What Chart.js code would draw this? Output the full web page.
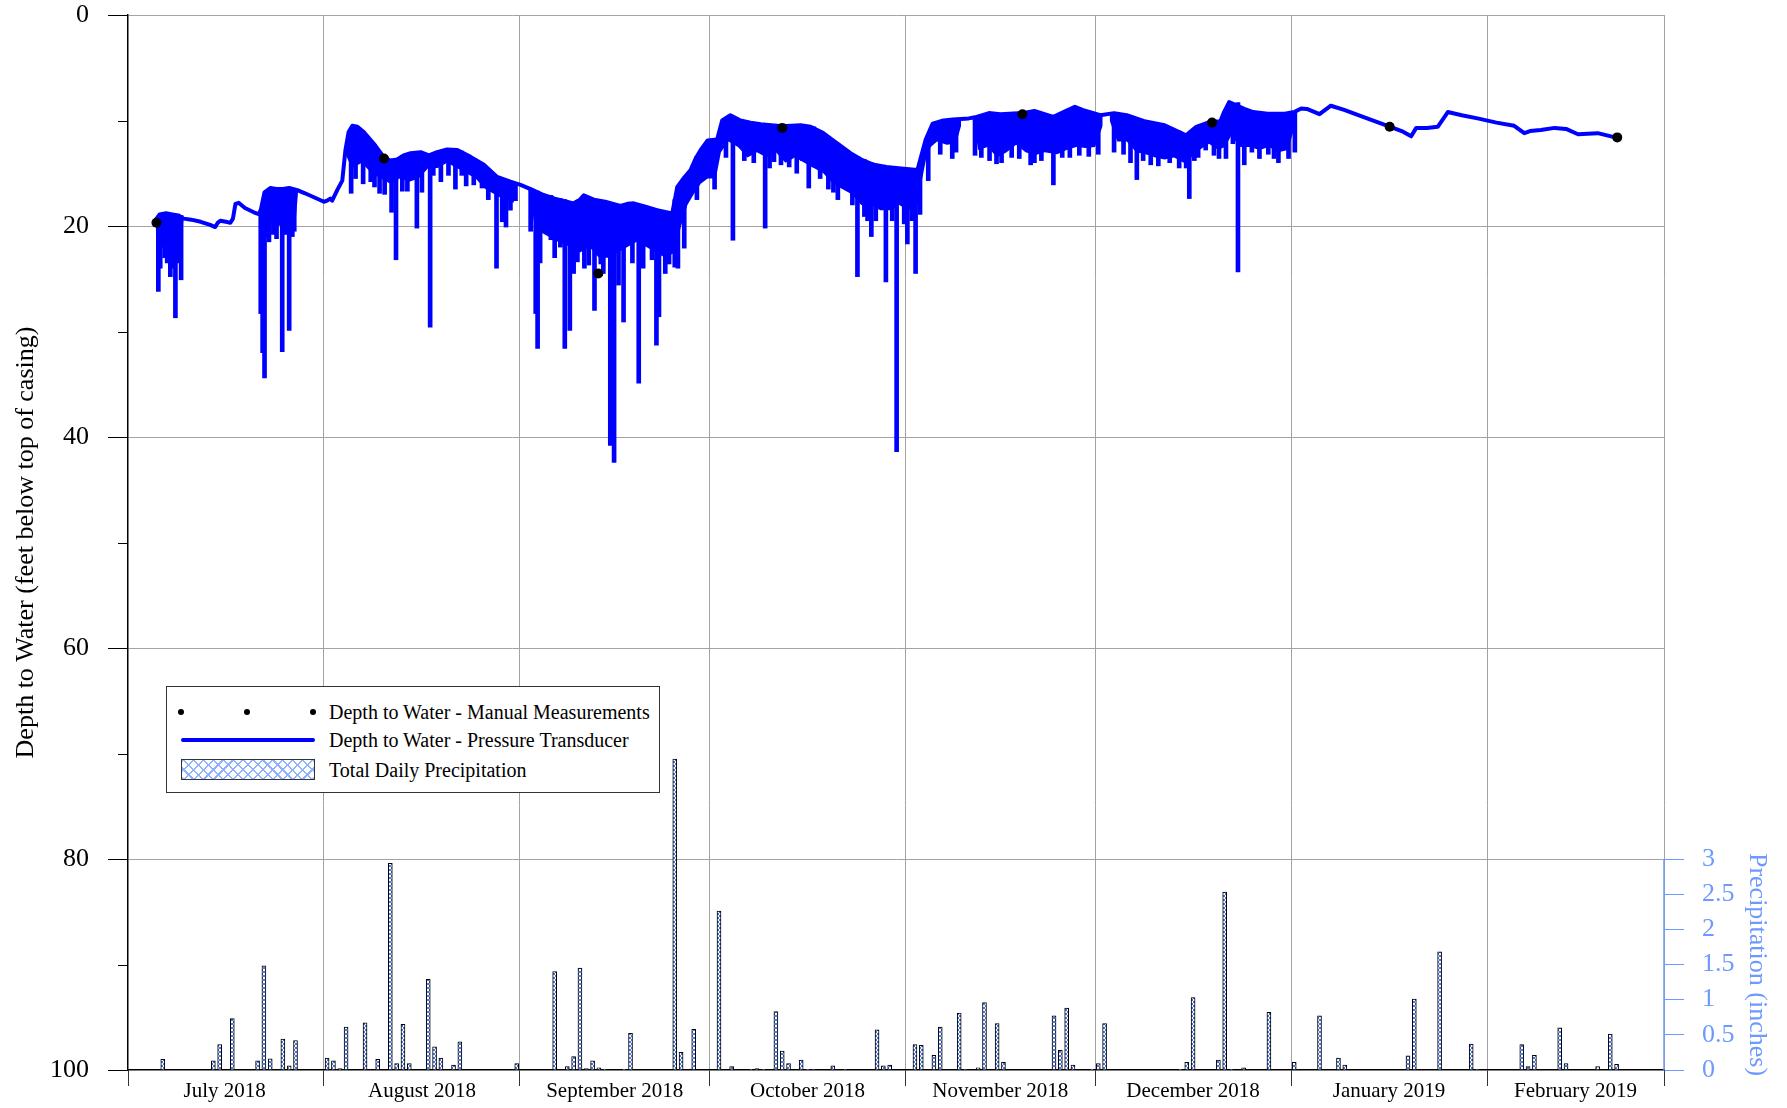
<!DOCTYPE html>
<html lang="en">
<head>
  <meta charset="UTF-8">
  <title>Depth to Water and Precipitation</title>
  <script src="https://cdn.jsdelivr.net/npm/chart.js@4.4.1/dist/chart.umd.min.js"></script>
  <style>
    html, body { margin: 0; padding: 0; background: #fff; }
    #wrap { position: relative; width: 1787px; height: 1108px; }
    #legend {
      position: absolute; left: 166px; top: 686px; width: 494px; height: 107px;
      box-sizing: border-box; border: 1px solid #333; background: #fff;
      font-family: 'Liberation Serif', 'Times New Roman', serif; font-size: 20px; color: #000;
    }
    #legend .dot { position: absolute; width: 6px; height: 6px; border-radius: 50%; background: #000; }
    #legend .line { position: absolute; left: 14px; width: 134px; height: 4px; border-radius: 2px; background: #0000ff; }
    #legend .hatch {
      position: absolute; left: 14px; width: 134px; height: 21px; box-sizing: border-box;
      border: 1px solid #333; background-color: #fff;
      background-image:
        repeating-linear-gradient(45deg, #8fb2ff 0 1.5px, transparent 1.5px 7px),
        repeating-linear-gradient(-45deg, #8fb2ff 0 1.5px, transparent 1.5px 7px);
    }
    #legend .txt { position: absolute; left: 162px; line-height: 24px; white-space: nowrap; }
  </style>
</head>
<body>
<div id="wrap">
  <canvas id="chart" width="1787" height="1108"></canvas>
  <div id="legend">
    <span class="dot" style="left:11px;top:22px"></span>
    <span class="dot" style="left:77px;top:22px"></span>
    <span class="dot" style="left:143px;top:22px"></span>
    <span class="txt" style="top:13px">Depth to Water - Manual Measurements</span>
    <span class="line" style="top:51px"></span>
    <span class="txt" style="top:41px">Depth to Water - Pressure Transducer</span>
    <span class="hatch" style="top:72px"></span>
    <span class="txt" style="top:71px">Total Daily Precipitation</span>
  </div>
</div>
<script>
  // x values are days since 1 July 2018
  const months = ['July 2018', 'August 2018', 'September 2018', 'October 2018',
                  'November 2018', 'December 2018', 'January 2019', 'February 2019'];
  const monthStarts = [0, 31, 62, 92, 123, 153, 184, 215, 243];
  const monthMids = [15.3, 46.5, 77, 107.5, 138, 168.5, 199.5, 229];

  const depthTicks = [0, 20, 40, 60, 80, 100];
  const depthMinor = [10, 30, 50, 70, 90];
  const precipTicks = [0, 0.5, 1, 1.5, 2, 2.5, 3];

  // manual measurements
  const manualDays  = [4.5, 40.5, 74.4, 103.5, 141.5, 171.5, 199.6, 235.6];
  const manualDepth = [19.7, 13.6, 24.5, 10.7, 9.4, 10.2, 10.6, 11.6];

  // pressure transducer, upper trace
  const lineDays = [
    4.4, 5.0, 6.0, 7.0, 8.0, 8.8, 10.0, 11.5, 13.0, 13.8, 14.2, 14.6, 15.5, 16.2, 16.6, 17.0, 17.5, 18.5, 19.9, 20.8,
    21.0, 21.6, 22.5, 23.5, 24.5, 25.5, 26.8, 28.0, 29.5, 31.0,
    31.5, 32.0, 32.3, 33.1, 33.9, 34.4, 34.9, 35.5, 36.3, 37.3, 38.9, 40.5, 41.5, 42.6, 43.6, 44.7, 46.3, 47.6, 48.9,
    50.5, 52.1, 54.2, 56.3, 58.4, 60.5, 62.1,
    63.7, 65.5, 67.5, 70.5, 71.5, 72.1, 73.7, 75.5, 77.9, 79.0, 80.0, 82.0, 83.7, 86.1, 86.9, 88.0, 89.0, 89.8, 90.6, 91.7,
    93.2, 94.0, 95.3, 96.9, 98.5, 100.1, 103.5, 106.4, 108.0, 110.0, 111.6, 114.3, 116.0, 118.0, 120.0, 122.3,
    124.9, 125.3, 126.2, 127.3, 129.0, 130.5, 133.0, 134.0, 136.2, 138.0, 141.5, 143.4, 145.0, 146.4, 148.0, 149.8, 151.0,
    152.2, 153.8, 156.0, 158.0, 161.0, 164.0, 167.4, 168.0, 169.0, 171.3, 172.8, 173.4, 174.2, 176.6, 178.0, 180.3, 183.0,
    184.5, 185.6, 186.5, 188.5, 190.3, 192.4, 195.6, 199.7, 201.5, 203.0, 203.8, 205.5, 207.2, 208.8, 211.0, 213.5,
    216.5, 219.3, 220.9, 221.8, 223.5, 225.7, 227.5, 229.4, 232.5, 235.6
  ];
  const lineDepth = [
    19.4, 18.9, 18.8, 18.9, 19.0, 19.3, 19.4, 19.6, 19.9, 20.1, 19.7, 19.5, 19.6, 19.7, 19.3, 17.9, 17.8, 18.3, 18.7, 18.9,
    18.5, 16.8, 16.4, 16.5, 16.5, 16.4, 16.6, 16.9, 17.3, 17.7,
    17.6, 17.4, 17.6, 16.6, 15.7, 12.8, 11.1, 10.5, 10.6, 11.1, 12.2, 13.5, 13.8, 13.7, 13.3, 13.1, 13.0, 13.3, 13.0,
    12.75, 12.8, 13.45, 14.2, 15.35, 15.8, 16.1,
    16.5, 17.0, 17.4, 17.85, 17.5, 17.1, 17.5, 17.7, 18.1, 17.9, 17.85, 18.2, 18.5, 18.8, 16.3, 15.4, 14.7, 13.6, 12.8, 11.9,
    11.8, 10.0, 9.5, 10.0, 10.2, 10.35, 10.55, 10.45, 10.6, 11.2, 11.9, 13.1, 13.7, 14.2, 14.4, 14.55,
    14.7, 13.8, 11.8, 10.3, 10.0, 9.9, 9.8, 9.7, 9.3, 9.4, 9.3, 9.1, 9.4, 9.66, 9.2, 8.7, 9.0,
    9.2, 9.5, 9.3, 9.5, 10.1, 10.45, 11.4, 11.1, 10.6, 10.1, 10.1, 9.2, 8.25, 8.9, 9.2, 9.35, 9.35,
    9.2, 8.86, 8.9, 9.4, 8.6, 9.0, 9.7, 10.6, 11.0, 11.5, 10.7, 10.7, 10.6, 9.2, 9.5, 9.8,
    10.2, 10.5, 11.2, 11.0, 10.9, 10.7, 10.8, 11.3, 11.2, 11.65
  ];

  // lower edge of the dense pumping band (null = no band)
  const bandDays = [
    4.4, 5.0, 5.8, 6.5, 7.3, 8.0, 8.6, 8.8, 9.0,
    21.0, 21.8, 22.8, 23.8, 24.8, 25.8, 26.6, 26.9, 27.0,
    34.3, 35.0, 35.5, 37.0, 38.5, 40.0, 41.5, 43.0, 44.5, 46.0, 47.5, 49.0, 50.5, 52.0, 53.5, 55.0, 56.5, 58.0, 59.5, 61.0, 61.6, 61.8,
    63.7, 64.2, 65.0, 66.5, 68.0, 70.0, 71.5, 73.0, 74.5, 76.0, 77.5, 79.0, 80.5, 82.0, 83.5, 85.0, 86.5, 87.5, 88.5,
    89.5, 90.6, 91.7, 93.0, 93.8, 95.0, 96.5, 98.0, 99.5, 101.0, 102.5, 104.0, 105.5, 107.0, 108.5, 110.0, 111.5, 113.0,
    114.5, 116.0, 117.5, 119.0, 120.5, 122.0, 123.5, 124.9, 125.5, 126.3, 127.0, 128.0, 129.5, 131.0, 131.8, 131.9,
    133.8, 134.5, 136.0, 137.5, 139.0, 140.5, 142.0, 143.5, 145.0, 147.0, 148.5, 150.0, 151.5, 153.0, 154.2, 154.3,
    155.3, 156.5, 158.0, 159.5, 161.0, 162.5, 164.0, 165.5, 167.0, 168.2, 169.5, 171.0, 172.5, 173.5, 174.5, 176.0,
    177.5, 179.0, 180.5, 182.0, 183.5, 184.9
  ];
  const bandBottom = [
    20.5, 22.0, 21.0, 23.0, 22.5, 21.5, 20.5, 19.4, null,
    19.5, 20.0, 19.8, 20.0, 19.8, 19.6, 19.0, 16.8, null,
    13.0, 14.0, 14.5, 14.0, 15.0, 15.5, 16.0, 15.5, 15.8, 15.5, 14.5, 14.5, 14.0, 14.5, 15.0, 15.5, 16.5, 17.0, 17.5, 17.8, 16.0, null,
    17.5, 19.5, 20.5, 21.0, 21.5, 22.0, 22.5, 22.0, 23.0, 23.0, 22.5, 22.0, 21.5, 22.0, 22.5, 23.0, 22.5, 20.0, 18.0,
    17.0, 16.0, 15.5, 15.5, 13.0, 12.0, 12.5, 13.5, 13.0, 13.5, 13.0, 14.0, 13.5, 14.0, 14.5, 15.0, 16.0, 16.5,
    17.0, 18.0, 18.0, 18.5, 18.5, 18.0, 18.5, 18.0, 16.0, 13.5, 12.5, 12.0, 12.3, 12.2, 10.5, null,
    10.0, 12.8, 12.5, 13.5, 13.0, 12.3, 13.0, 13.3, 13.0, 13.2, 12.8, 12.5, 12.6, 12.5, 10.5, null,
    10.0, 12.0, 12.0, 13.0, 13.2, 13.5, 13.7, 13.5, 14.0, 13.5, 12.8, 12.2, 12.8, 12.5, 11.5, 12.5,
    12.5, 12.8, 12.5, 13.0, 12.8, 10.0
  ];

  // drawdown spikes: day, from depth, to depth (long ones first, then short ones on the band edge)
  const spikeDays = [
    4.8, 5.4, 6.2, 6.7, 7.5, 8.4, 21.0, 21.3, 21.6, 22.3, 24.4, 25.5, 26.3,
    35.3, 38.4, 39.8, 41.7, 42.4, 43.4, 44.2, 45.7, 47.8, 48.3, 50.7, 51.8, 52.8, 54.7, 56.0, 58.3, 59.2, 59.8, 61.3,
    63.7, 64.5, 64.8, 66.9, 68.4, 69.1, 69.9, 71.1, 72.9, 73.8, 74.8, 75.7, 76.3, 76.9, 77.6, 78.4, 80.8, 82.9, 83.6,
    84.0, 85.6, 86.5, 88.0,
    95.7, 100.8, 102.2, 104.6, 106.7, 107.7, 108.5, 111.6, 113.8, 115.4, 116.5, 117.6, 119.9, 121.6, 123.3, 124.6, 125.3,
    126.6, 130.4, 134.0, 137.4, 143.4, 146.4, 147.8, 159.6, 160.6, 163.9, 167.4, 167.9, 168.7, 173.7, 175.6, 176.6, 181.3,
    5.1, 5.8, 7.1, 8.0, 22.0, 23.0, 23.5, 25.0, 26.0,
    36.0, 37.2, 39.0, 40.6, 46.5, 49.5, 53.5, 57.0, 60.5,
    65.2, 67.5, 70.5, 72.2, 75.2, 79.8, 81.5, 85.0, 87.0,
    90.0, 92.8, 94.6, 97.5, 99.0, 101.5, 103.3, 105.8, 109.5, 110.8, 112.3, 114.6, 117.0, 118.3, 120.9, 122.8, 124.0,
    128.5, 131.0, 135.0, 136.3, 138.2, 139.8, 141.0, 142.8, 144.5, 149.0, 150.5, 152.0, 153.5, 156.0, 157.5, 158.6,
    161.8, 163.0, 164.8, 166.3, 169.3, 170.5, 171.8, 172.6, 174.8, 177.8, 179.0, 180.4, 182.0, 183.6, 184.6
  ];
  const spikeFrom = [
    19.2, 19.0, 19.0, 19.0, 19.0, 19.0, 18.5, 18.0, 17.0, 16.5, 16.5, 16.5, 16.5,
    11.0, 12.0, 13.0, 13.8, 13.8, 13.3, 13.2, 13.1, 13.3, 13.2, 12.8, 12.8, 12.9, 13.6, 14.1, 15.3, 15.6, 15.7, 15.9,
    16.6, 16.7, 16.7, 17.1, 17.4, 17.5, 17.7, 17.7, 17.3, 17.5, 17.6, 17.7, 17.8, 17.9, 18.0, 18.0, 18.0, 18.3, 18.4,
    18.5, 18.7, 17.5, 15.5,
    9.6, 10.4, 10.5, 10.5, 10.5, 10.6, 10.6, 11.9, 13.0, 13.4, 13.7, 14.0, 14.4, 14.5, 14.6, 14.7, 14.0,
    11.5, 9.9, 9.7, 9.35, 9.1, 9.66, 9.3, 9.8, 10.1, 10.4, 11.4, 11.4, 11.0, 9.0, 8.3, 8.9, 9.35,
    19.0, 19.0, 19.0, 19.0, 16.8, 16.5, 16.5, 16.5, 16.5,
    10.8, 11.1, 12.3, 13.5, 13.0, 13.0, 13.2, 14.6, 15.8,
    16.9, 17.4, 17.8, 17.1, 17.7, 17.9, 18.1, 18.7, 16.3,
    13.4, 11.8, 9.8, 10.1, 10.3, 10.4, 10.5, 10.5, 11.0, 11.5, 12.2, 13.2, 13.9, 14.2, 14.5, 14.6, 14.6,
    10.0, 9.9, 9.5, 9.3, 9.4, 9.35, 9.3, 9.2, 9.3, 8.9, 8.9, 9.2, 9.4, 9.3, 9.4, 9.6,
    10.2, 10.3, 10.7, 11.0, 10.5, 10.3, 10.1, 10.1, 8.4, 9.1, 9.3, 9.35, 9.35, 9.3, 9.2
  ];
  const spikeTo = [
    26.2, 22.0, 23.5, 24.8, 28.7, 25.1, 28.3, 32.0, 34.4, 21.5, 31.9, 29.9, 20.5,
    16.9, 15.8, 16.9, 18.7, 23.2, 16.7, 16.7, 20.2, 29.6, 15.2, 15.2, 16.5, 15.2, 16.1, 16.4, 24.0, 19.6, 20.1, 17.6,
    20.5, 28.3, 31.6, 21.3, 22.0, 31.6, 29.9, 23.4, 23.7, 28.0, 23.6, 21.9, 40.8, 42.4, 25.6, 29.1, 34.9, 23.2, 31.3,
    28.6, 23.6, 23.9, 22.1,
    21.35, 20.2, 13.9, 14.4, 13.8, 16.4, 14.4, 16.8, 16.3, 24.8, 19.1, 21.0, 25.3, 41.4, 21.7, 24.5, 18.9,
    15.7, 13.6, 13.3, 14.1, 14.0, 16.1, 13.5, 15.6, 13.8, 13.6, 14.5, 17.4, 13.8, 13.6, 24.35, 14.2, 13.6,
    24.0, 23.0, 24.0, 23.5, 21.0, 20.8, 21.2, 20.8, 21.0,
    15.5, 16.0, 16.3, 17.0, 16.8, 15.8, 16.2, 17.5, 18.5,
    23.5, 23.0, 24.5, 24.0, 24.5, 23.5, 24.0, 24.5, 24.0,
    17.5, 16.5, 13.5, 13.8, 14.0, 14.5, 14.2, 15.0, 15.5, 16.5, 17.5, 18.0, 19.5, 19.5, 19.5, 19.8, 19.5,
    13.2, 13.0, 13.5, 13.8, 14.0, 13.5, 13.6, 14.2, 13.8, 13.5, 13.3, 13.4, 13.2, 13.0, 13.2, 14.0,
    14.2, 14.3, 14.0, 14.5, 13.5, 12.8, 13.3, 13.6, 12.2, 13.0, 13.6, 13.2, 14.0, 13.6, 13.0
  ];

  // total daily precipitation (inches)
  const precipDays = [
    5.5, 13.5, 14.5, 16.5, 20.5, 21.5, 22.5, 24.5, 25.5, 26.5,
    31.5, 32.5, 33.5, 34.5, 37.5, 39.5, 41.5, 42.5, 43.5, 44.5, 47.5, 48.5, 49.5, 51.5, 52.5, 61.5,
    67.5, 69.5, 70.5, 71.5, 72.5, 73.5, 74.5, 75.5, 78.5, 79.5, 86.5, 87.5, 89.5,
    93.5, 95.5, 98.5, 99.5, 100.5, 102.5, 103.5, 104.5, 106.5, 107.5, 108.5, 111.5, 113.5, 118.5, 119.5, 120.5,
    124.5, 125.5, 127.5, 128.5, 131.5, 132.5, 134.5, 135.5, 137.5, 138.5, 146.5, 147.5, 148.5, 149.5, 152.5,
    153.5, 154.5, 166.5, 167.5, 168.5, 172.5, 173.5, 174.5, 176.5, 180.5,
    184.5, 188.5, 191.5, 192.5, 202.5, 203.5, 207.5, 212.5, 213.5,
    220.5, 221.5, 222.5, 226.5, 227.5, 232.5, 234.5, 235.5
  ];
  const precipInches = [
    0.15, 0.13, 0.36, 0.73, 0.13, 1.48, 0.16, 0.44, 0.06, 0.42,
    0.17, 0.13, 0.02, 0.61, 0.67, 0.15, 2.94, 0.09, 0.65, 0.09, 1.29, 0.33, 0.17, 0.07, 0.40, 0.09,
    1.40, 0.05, 0.19, 1.45, 0.02, 0.13, 0.03, 0.01, 0.01, 0.52, 4.42, 0.25, 0.58,
    2.26, 0.05, 0.01, 0.02, 0.01, 0.83, 0.27, 0.09, 0.14, 0.01, 0.01, 0.06, 0.01, 0.57, 0.06, 0.07,
    0.36, 0.35, 0.21, 0.61, 0.81, 0.01, 0.03, 0.96, 0.66, 0.11, 0.77, 0.28, 0.88, 0.07, 0.01,
    0.09, 0.66, 0.01, 0.11, 1.03, 0.14, 2.53, 0.01, 0.03, 0.82,
    0.11, 0.77, 0.17, 0.07, 0.20, 1.01, 1.68, 0.37, 0.01,
    0.36, 0.05, 0.21, 0.60, 0.09, 0.05, 0.51, 0.08
  ];

  const serif = "'Liberation Serif', 'Times New Roman', serif";
  const blue = '#0000ff';
  const precipBlue = '#6e99ff';
  const gridGray = '#a3a3a3';
  const clear = 'rgba(0,0,0,0)';

  function hatchPattern() {
    const c = document.createElement('canvas');
    c.width = 4; c.height = 4;
    const g = c.getContext('2d');
    g.fillStyle = '#fff';
    g.fillRect(0, 0, 4, 4);
    g.strokeStyle = '#4a78e0';
    g.lineWidth = 1;
    g.beginPath();
    g.moveTo(0, 0); g.lineTo(4, 4);
    g.moveTo(4, 0); g.lineTo(0, 4);
    g.stroke();
    return g.createPattern(c, 'repeat');
  }

  // minor depth ticks, short precipitation axis line and its title
  const extras = {
    id: 'extras',
    afterDraw(chart) {
      const { ctx } = chart;
      const y = chart.scales.y, y2 = chart.scales.y2;
      ctx.save();
      ctx.strokeStyle = '#000';
      ctx.lineWidth = 1;
      depthMinor.forEach(v => {
        const py = Math.round(y.getPixelForValue(v)) + 0.5;
        ctx.beginPath();
        ctx.moveTo(y.right - 10, py);
        ctx.lineTo(y.right, py);
        ctx.stroke();
      });
      const p0 = y2.getPixelForValue(0), p3 = y2.getPixelForValue(3);
      ctx.strokeStyle = precipBlue;
      ctx.lineWidth = 1.5;
      ctx.beginPath();
      ctx.moveTo(y2.left, p0);
      ctx.lineTo(y2.left, p3);
      ctx.stroke();
      ctx.translate(1757, (p0 + p3) / 2);
      ctx.rotate(Math.PI / 2);
      ctx.fillStyle = precipBlue;
      ctx.font = '26px ' + serif;
      ctx.textAlign = 'center';
      ctx.textBaseline = 'middle';
      ctx.fillText('Precipitation (inches)', 0, 0);
      ctx.restore();
    }
  };

  const ctx = document.getElementById('chart').getContext('2d');
  const chart = new Chart(ctx, {
    type: 'line',
    data: {
      datasets: [{
        label: 'Depth to Water - Manual Measurements',
        data: manualDays.map((d, i) => ({ x: d, y: manualDepth[i] })),
        showLine: false,
        pointRadius: 5,
        pointBackgroundColor: '#000',
        pointBorderWidth: 0,
        order: 0
      }, {
        label: 'Depth to Water - Pressure Transducer',
        data: lineDays.map((d, i) => ({ x: d, y: lineDepth[i] })),
        borderColor: blue,
        borderWidth: 4,
        pointRadius: 0,
        borderJoinStyle: 'round',
        borderCapStyle: 'round',
        order: 1
      }, {
        type: 'bar',
        label: 'spikes',
        data: spikeDays.map((d, i) => ({ x: d, y: [spikeFrom[i], spikeTo[i]] })),
        backgroundColor: blue,
        borderWidth: 0,
        barThickness: 4,
        grouped: false,
        order: 2
      }, {
        label: 'band',
        data: bandDays.map((d, i) => ({ x: d, y: bandBottom[i] })),
        borderWidth: 0,
        borderColor: blue,
        backgroundColor: blue,
        pointRadius: 0,
        fill: 1,
        spanGaps: false,
        order: 3
      }, {
        type: 'bar',
        label: 'Total Daily Precipitation',
        yAxisID: 'y2',
        data: precipDays.map((d, i) => ({ x: d, y: precipInches[i] })),
        backgroundColor: hatchPattern(),
        borderColor: '#000',
        borderWidth: 1,
        barThickness: 4,
        grouped: false,
        order: 4
      }]
    },
    options: {
      responsive: false,
      animation: false,
      devicePixelRatio: 1,
      layout: { padding: { top: 15, left: 0, right: 0, bottom: 0 } },
      plugins: { legend: { display: false }, tooltip: { enabled: false } },
      scales: {
        x: {
          type: 'linear',
          min: 0,
          max: 243,
          offset: false,
          afterBuildTicks: s => {
            s.ticks = monthStarts.concat(monthMids).sort((a, b) => a - b).map(v => ({ value: v }));
          },
          afterFit: s => { s.height = 38; s.paddingLeft = 0; s.paddingRight = 0; },
          ticks: {
            autoSkip: false,
            maxRotation: 0,
            padding: -7,
            color: '#000',
            font: { family: serif, size: 21 },
            callback: v => {
              const i = monthMids.indexOf(v);
              return i >= 0 ? months[i] : '';
            }
          },
          grid: {
            offset: false,
            tickLength: 16,
            lineWidth: 1,
            color: c => {
              const v = c.tick ? c.tick.value : null;
              if (v === 0) return clear;
              return monthStarts.includes(v) ? gridGray : clear;
            },
            tickColor: c => (c.tick && monthStarts.includes(c.tick.value)) ? '#333' : clear
          },
          border: { color: '#000', width: 1.5 }
        },
        y: {
          type: 'linear',
          position: 'left',
          reverse: true,
          min: 0,
          max: 100,
          afterBuildTicks: s => { s.ticks = depthTicks.map(v => ({ value: v })); },
          afterFit: s => { s.width = 128; s.paddingTop = 0; s.paddingBottom = 0; },
          ticks: {
            padding: 19,
            color: '#000',
            font: { family: serif, size: 26 },
            callback: v => String(v)
          },
          grid: {
            tickLength: 20,
            lineWidth: 1,
            color: c => (c.tick && c.tick.value === 100) ? clear : gridGray,
            tickColor: '#000'
          },
          border: { color: '#000', width: 1.5 },
          title: {
            display: true,
            text: 'Depth to Water (feet below top of casing)',
            color: '#000',
            font: { family: serif, size: 26 },
            padding: { top: 11, bottom: 0 }
          }
        },
        y2: {
          type: 'linear',
          position: 'right',
          min: 0,
          max: 15,
          afterBuildTicks: s => { s.ticks = precipTicks.map(v => ({ value: v })); },
          afterFit: s => { s.width = 123; s.paddingTop = 0; s.paddingBottom = 0; },
          ticks: {
            padding: 18,
            color: precipBlue,
            font: { family: serif, size: 26 },
            callback: v => String(v)
          },
          grid: {
            drawOnChartArea: false,
            tickLength: 20,
            color: precipBlue,
            tickColor: precipBlue
          },
          border: { display: false }
        }
      }
    },
    plugins: [extras]
  });
</script>
</body>
</html>
